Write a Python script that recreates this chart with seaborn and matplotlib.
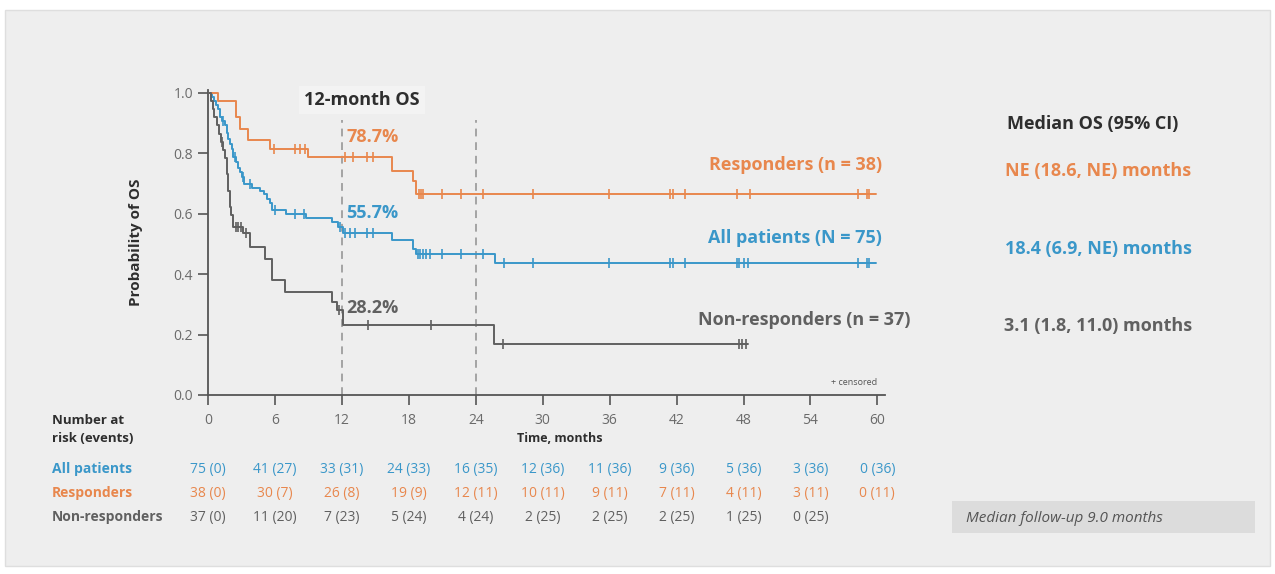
import numpy as np
import pandas as pd
import matplotlib
matplotlib.use("Agg")
import matplotlib.pyplot as plt
import seaborn as sns
from matplotlib.patches import Rectangle
from matplotlib.transforms import blended_transform_factory

# ---- Kaplan-Meier step data (time in months, survival probability) ----
groups = ["All patients", "Responders", "Non-responders"]

all_times = [0, 0.3, 0.5, 0.7, 0.9, 1.05, 1.2, 1.5, 1.65, 1.8, 1.95, 2.1, 2.25, 2.5,
             2.7, 2.85, 3.0, 3.2, 3.9, 4.6, 5.0, 5.3, 5.5, 5.7, 7.0, 8.8, 11.1, 11.6,
             12.05, 16.45, 18.4, 18.6, 25.7]
all_surv = [1.0, 0.987, 0.973, 0.960, 0.947, 0.920, 0.907, 0.893, 0.866, 0.848, 0.830,
            0.815, 0.788, 0.770, 0.752, 0.737, 0.720, 0.698, 0.684, 0.676, 0.664, 0.650,
            0.636, 0.612, 0.599, 0.587, 0.571, 0.557, 0.537, 0.514, 0.483, 0.465, 0.435]
all_censor = [1.35, 2.4, 3.1, 3.7, 6.0, 7.8, 8.6, 11.8, 12.3, 12.7, 13.2, 14.2, 14.8,
              18.8, 19.0, 19.3, 19.5, 19.9, 21.0, 22.7, 24.6, 26.5, 29.1, 35.9, 41.4,
              41.65, 42.75, 47.4, 47.6, 48.0, 48.4, 58.3, 59.05, 59.3]

resp_times = [0, 0.9, 2.5, 2.8, 3.6, 5.5, 8.9, 16.45, 18.4, 18.6]
resp_surv = [1.0, 0.974, 0.921, 0.881, 0.842, 0.815, 0.787, 0.742, 0.709, 0.664]
resp_censor = [5.9, 7.8, 8.2, 8.7, 12.3, 13.0, 14.2, 14.8, 18.9, 19.1, 19.3, 21.0,
               22.7, 24.6, 29.1, 35.9, 41.4, 41.65, 42.75, 47.4, 48.6, 58.3, 59.05, 59.3]

nonr_times = [0, 0.2, 0.4, 0.55, 0.75, 0.95, 1.1, 1.35, 1.5, 1.65, 1.8, 1.95, 2.05,
              2.2, 3.1, 3.7, 5.05, 5.7, 6.9, 11.1, 11.5, 12.05, 25.6]
nonr_surv = [1.0, 0.973, 0.946, 0.919, 0.892, 0.865, 0.838, 0.811, 0.784, 0.730, 0.676,
             0.622, 0.595, 0.555, 0.537, 0.490, 0.450, 0.381, 0.342, 0.309, 0.282,
             0.231, 0.170]
nonr_censor = [1.2, 2.5, 2.7, 2.9, 3.4, 11.7, 14.35, 20.0, 26.4, 47.6, 47.9, 48.2]

last_followup = [59.9, 59.9, 48.4]

# 12-month OS estimates
os12 = [0.557, 0.787, 0.282]

# ---- risk table ----
risk_months = [0, 6, 12, 18, 24, 30, 36, 42, 48, 54, 60]
risk_all = ["75 (0)", "41 (27)", "33 (31)", "24 (33)", "16 (35)", "12 (36)", "11 (36)",
            "9 (36)", "5 (36)", "3 (36)", "0 (36)"]
risk_resp = ["38 (0)", "30 (7)", "26 (8)", "19 (9)", "12 (11)", "10 (11)", "9 (11)",
             "7 (11)", "4 (11)", "3 (11)", "0 (11)"]
risk_nonr = ["37 (0)", "11 (20)", "7 (23)", "5 (24)", "4 (24)", "2 (25)", "2 (25)",
             "2 (25)", "1 (25)", "0 (25)", ""]

curve_labels = ["All patients (N = 75)", "Responders (n = 38)", "Non-responders (n = 37)"]
median_os = ["18.4 (6.9, NE) months", "NE (18.6, NE) months", "3.1 (1.8, 11.0) months"]

# ---- styling ----
C_BLUE = "#3a97c9"
C_ORANGE = "#e8874d"
C_GREY = "#606060"
C_DARK = "#2e2e2e"
colors = [C_BLUE, C_ORANGE, C_GREY]
BOLD = "bold"

sns.set_theme(style="ticks")
plt.rcParams["font.family"] = ["Open Sans", "DejaVu Sans"]

W, H = 1275, 574
fig = plt.figure(figsize=(W / 100, H / 100), dpi=100)
fig.patch.set_facecolor("white")


def fx(px):
    return px / W


def fy(py):
    return 1 - py / H


# slide panel
fig.patches.append(Rectangle((fx(5), fy(566)), fx(1265), (566 - 10) / H,
                             transform=fig.transFigure, facecolor="#eeeeee",
                             edgecolor="#dedede", linewidth=1.0, zorder=-10))

# axes geometry (pixels)
x0_px, x_per_month = 208.3, 11.15
y0_px, y_per_unit = 395.0, 302.3
xmax, ymax = 60.7, 1.01
ax = fig.add_axes([fx(x0_px), fy(y0_px), xmax * x_per_month / W, ymax * y_per_unit / H])
ax.set_facecolor("none")
ax.set_zorder(2)

steps = [(all_times, all_surv, all_censor),
         (resp_times, resp_surv, resp_censor),
         (nonr_times, nonr_surv, nonr_censor)]

for (t, s, cens), end, col, name in zip(steps, last_followup, colors, groups):
    df = pd.DataFrame({"time": list(t) + [end], "surv": list(s) + [s[-1]]})
    sns.lineplot(data=df, x="time", y="surv", ax=ax, color=col, linewidth=1.4,
                 drawstyle="steps-post", estimator=None, sort=False, zorder=3)
    t_arr = np.asarray(t)
    s_arr = np.asarray(s)
    idx = np.searchsorted(t_arr, np.asarray(cens), side="right") - 1
    cdf = pd.DataFrame({"time": cens, "surv": s_arr[idx]})
    sns.scatterplot(data=cdf, x="time", y="surv", ax=ax, marker="|", s=60,
                    color=col, linewidth=1.2, zorder=4)

# 12- and 24-month reference lines
for m in [12, 24]:
    ax.plot([m, m], [0, 0.91], color="#a3a3a3", linestyle=(0, (4, 3)), linewidth=1.4,
            zorder=2)

ax.set_xlim(0, xmax)
ax.set_ylim(0, ymax)
ax.set_xticks(risk_months)
ax.set_yticks([0.0, 0.2, 0.4, 0.6, 0.8, 1.0])
ax.set_yticklabels(["0.0", "0.2", "0.4", "0.6", "0.8", "1.0"])
ax.set_xticklabels([])
ax.tick_params(axis="both", direction="out", length=7, width=1.2, color="#555555",
               labelsize=10, labelcolor="#6a6a6a", pad=4)
for side in ["left", "bottom"]:
    ax.spines[side].set_color("#555555")
    ax.spines[side].set_linewidth(1.3)
sns.despine(ax=ax)
ax.set_xlabel("")
ax.set_ylabel("Probability of OS", fontsize=11, fontweight="bold", color=C_DARK,
              labelpad=22)

# annotations inside the plot
ax.text(13.8, 0.976, "12-month OS", ha="center", va="center", fontsize=13,
        fontweight=BOLD, color=C_DARK,
        bbox=dict(boxstyle="square,pad=0.3", facecolor="#f3f3f3", edgecolor="none"))
pct_y = [0.602, 0.853, 0.288]
for v, yy, col in zip(os12, pct_y, colors):
    ax.text(12.4, yy, f"{v * 100:.1f}%", ha="left", va="center", fontsize=13,
            fontweight=BOLD, color=col)

ax.text(60.4, 0.519, curve_labels[0], ha="right", va="center", fontsize=13,
        fontweight=BOLD, color=C_BLUE)
ax.text(60.4, 0.761, curve_labels[1], ha="right", va="center", fontsize=13,
        fontweight=BOLD, color=C_ORANGE)
ax.text(43.9, 0.248, curve_labels[2], ha="left", va="center", fontsize=13,
        fontweight=BOLD, color=C_GREY, clip_on=False)
ax.text(60.0, 0.043, "+ censored", ha="right", va="center", fontsize=6.5,
        color="#555555")

# risk table and x tick labels
tr = blended_transform_factory(ax.transData, fig.transFigure)
for m in risk_months:
    ax.text(m, fy(421), str(m), transform=tr, ha="center", va="center", fontsize=10,
            color="#6a6a6a")
ax.text(31.5, fy(439), "Time, months", transform=tr, ha="center", va="center",
        fontsize=9, fontweight="bold", color=C_DARK)
fig.text(fx(52), fy(421), "Number at", ha="left", va="center", fontsize=9.5,
         fontweight="bold", color=C_DARK)
fig.text(fx(52), fy(438), "risk (events)", ha="left", va="center", fontsize=9.5,
         fontweight="bold", color=C_DARK)

row_y = [469, 493, 517]
for name, vals, col, yy in zip(groups, [risk_all, risk_resp, risk_nonr], colors, row_y):
    fig.text(fx(52), fy(yy), name, ha="left", va="center", fontsize=10,
             fontweight="bold", color=col)
    for m, v in zip(risk_months, vals):
        ax.text(m, fy(yy), v, transform=tr, ha="center", va="center", fontsize=10,
                color=col)

# median OS panel
fig.text(fx(1093), fy(124), "Median OS (95% CI)", ha="center", va="center",
         fontsize=13, fontweight=BOLD, color=C_DARK)
med_y = [249, 171, 326]
for txt, col, yy in zip(median_os, colors, med_y):
    fig.text(fx(1098), fy(yy), txt, ha="center", va="center", fontsize=13,
             fontweight=BOLD, color=col)

fig.patches.append(Rectangle((fx(952), fy(533)), fx(303), 32 / H,
                             transform=fig.transFigure, facecolor="#dcdcdc",
                             edgecolor="none", zorder=-5))
fig.text(fx(966), fy(518), "Median follow-up 9.0 months", ha="left", va="center",
         fontsize=11, fontstyle="italic", color="#555555")

fig.savefig("out.png", dpi=100, facecolor=fig.get_facecolor())
